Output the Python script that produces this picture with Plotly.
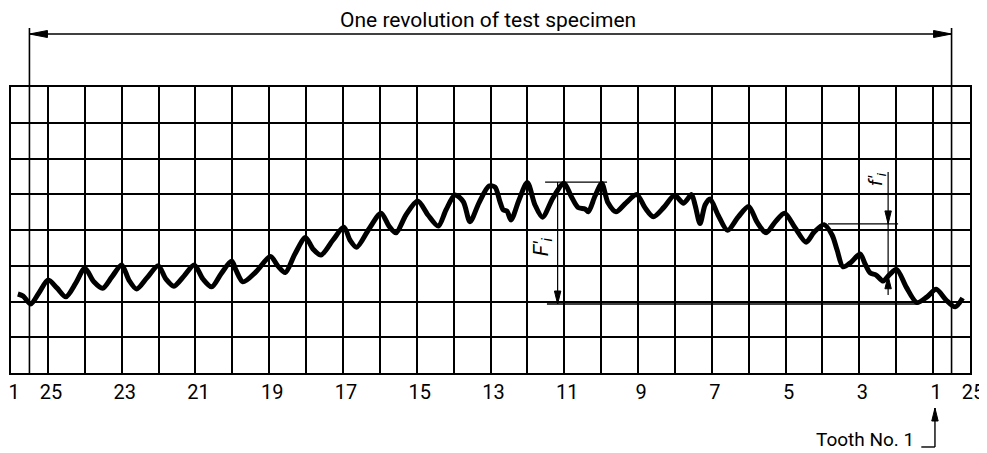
import plotly.graph_objects as go

# ---- data (x: tooth pitch position, y: deviation in grid units) ----
trace_x = [-0.814, -0.670, -0.469, -0.244, 0.008, 0.244, 0.488, 0.759, 1.003, 1.247,
           1.483, 1.736, 1.999, 2.197, 2.405, 2.685, 2.991, 3.200, 3.417, 3.688,
           3.967, 4.203, 4.439, 4.692, 4.982, 5.098, 5.288, 5.641, 6.034, 6.237,
           6.435, 6.698, 6.983, 7.186, 7.403, 7.729, 8.027, 8.190, 8.372, 8.705,
           9.031, 9.248, 9.437, 9.708, 10.026, 10.305, 10.584, 10.793, 11.037, 11.263,
           11.444, 11.688, 11.959, 12.122, 12.258, 12.347, 12.447, 12.556, 12.773, 12.998,
           13.207, 13.410, 13.695, 13.993, 14.183, 14.373, 14.563, 14.652, 14.834, 15.016,
           15.186, 15.403, 15.675, 15.965, 16.190, 16.415, 16.705, 16.990, 17.234, 17.451,
           17.546, 17.681, 17.817, 17.953, 18.169, 18.427, 18.712, 18.997, 19.227, 19.471,
           19.715, 19.973, 20.258, 20.556, 20.773, 21.044, 21.261, 21.397, 21.559, 21.776,
           22.020, 22.156, 22.292, 22.454, 22.644, 22.807, 23.010, 23.268, 23.561, 23.837,
           24.081, 24.353, 24.597, 24.800]
trace_y = [2.21, 2.15, 1.93, 2.24, 2.60, 2.38, 2.13, 2.52, 2.93, 2.55,
           2.37, 2.69, 3.02, 2.60, 2.35, 2.66, 3.00, 2.63, 2.43, 2.71,
           3.02, 2.63, 2.41, 2.77, 3.13, 2.88, 2.55, 2.83, 3.26, 2.99,
           2.81, 3.33, 3.79, 3.47, 3.30, 3.72, 4.08, 3.72, 3.52, 4.03,
           4.47, 4.11, 3.92, 4.42, 4.81, 4.42, 4.11, 4.56, 4.98, 4.79,
           4.23, 4.76, 5.23, 5.20, 4.79, 4.56, 4.53, 4.28, 4.84, 5.33,
           4.70, 4.36, 4.90, 5.31, 4.95, 4.63, 4.59, 4.51, 4.95, 5.30,
           4.76, 4.51, 4.76, 4.99, 4.62, 4.37, 4.64, 4.97, 4.75, 4.99,
           4.70, 4.18, 4.70, 4.87, 4.42, 3.99, 4.36, 4.66, 4.22, 3.92,
           4.22, 4.47, 4.06, 3.66, 3.94, 4.15, 3.86, 3.44, 2.97, 3.10,
           3.33, 3.05, 2.80, 2.74, 2.57, 2.74, 2.90, 2.41, 1.97, 2.13,
           2.34, 2.04, 1.85, 2.10]

tick_pos = [-1, 0, 2, 4, 6, 8, 10, 12, 14, 16, 18, 20, 22, 24, 25]
tick_text = ["1", "25", "23", "21", "19", "17", "15", "13", "11", "9", "7", "5", "3", "1", "25"]

# annotation reference levels (grid units)
Fi_x = 13.82
Fi_top = 5.34
Fi_bottom = 1.93
fi_x = 22.78
fi_top = 4.17
fi_low = 2.72

FONT = "Roboto"
ink = "black"
X_MIN, X_MAX = -1, 25


def xdom(k):
    return (k - X_MIN) / (X_MAX - X_MIN)


fig = go.Figure()
fig.add_trace(go.Scatter(x=trace_x, y=trace_y, mode="lines",
                         line=dict(color=ink, width=5, shape="spline", smoothing=0.8),
                         hoverinfo="skip", showlegend=False))

TOP_Y = 1.1853      # one-revolution arrow level (axis-domain units)
REV_TOP = 1.206     # top of the revolution marks
TOOTH_TIP = -0.1224
TOOTH_BASE = -0.2587

annotations = [
    dict(x=11.93, y=1.234, xref="x", yref="y domain", text="One revolution of test specimen",
         xanchor="center", yanchor="middle",
         showarrow=False, font=dict(family=FONT, size=21, color=ink)),
    dict(x=13.40, y=3.52, xref="x", yref="y", text="<i>F′<sub>i</sub></i>",
         xanchor="center", yanchor="middle",
         textangle=-90, showarrow=False, font=dict(family=FONT, size=21, color=ink)),
    dict(x=22.47, y=5.42, xref="x", yref="y", text="<i>f′<sub>i</sub></i>",
         xanchor="center", yanchor="middle",
         textangle=-90, showarrow=False, font=dict(family=FONT, size=19, color=ink)),
    dict(x=22.16, y=-0.233, xref="x", yref="y domain", text="Tooth No. 1",
         xanchor="center", yanchor="middle",
         showarrow=False, font=dict(family=FONT, size=19, color=ink)),
]


def line(xref, yref, x0, x1, y0, y1, w=1.3):
    return dict(type="line", xref=xref, yref=yref, x0=x0, x1=x1, y0=y0, y1=y1,
                line=dict(color=ink, width=w), layer="above")


def head(xref, yref, xa, ya, path):
    return dict(type="path", xref=xref, yref=yref, xsizemode="pixel", ysizemode="pixel",
                xanchor=xa, yanchor=ya, path=path, fillcolor=ink,
                line=dict(color=ink, width=1), layer="above")


LEFT_HEAD = "M0,0 L18,3.5 L18,-3.5 Z"
RIGHT_HEAD = "M0,0 L-18,3.5 L-18,-3.5 Z"
DOWN_HEAD = "M0,0 L-3.2,13 L3.2,13 Z"
UP_HEAD = "M0,0 L-3.2,-13 L3.2,-13 Z"

shapes = [
    # one revolution
    line("x domain", "y domain", xdom(-0.5), xdom(24.5), TOP_Y, TOP_Y, 1.3),
    head("x domain", "y domain", xdom(-0.5), TOP_Y, LEFT_HEAD),
    head("x domain", "y domain", xdom(24.5), TOP_Y, RIGHT_HEAD),
    line("x domain", "y domain", xdom(-0.5), xdom(-0.5), 0, REV_TOP, 1.6),
    line("x domain", "y domain", xdom(24.5), xdom(24.5), 0, REV_TOP, 1.6),
    # F'i
    line("x", "y", 13.48, 15.16, Fi_top, Fi_top),
    line("x", "y", 13.53, 23.6, Fi_bottom, Fi_bottom),
    line("x", "y", Fi_x, Fi_x, Fi_top, Fi_bottom, 1.2),
    head("x", "y", Fi_x, Fi_bottom, DOWN_HEAD),
    # f'i
    line("x", "y", 21.15, 23.05, fi_top, fi_top),
    line("x", "y", fi_x, fi_x, 5.62, 2.18, 1.2),
    head("x", "y", fi_x, fi_top, DOWN_HEAD),
    head("x", "y", fi_x, fi_low, UP_HEAD),
    # Tooth No. 1 pointer
    line("x domain", "y domain", xdom(24.05), xdom(24.05), TOOTH_TIP, TOOTH_BASE, 1.4),
    line("x domain", "y domain", xdom(23.68), xdom(24.05), TOOTH_BASE, TOOTH_BASE, 1.4),
    head("x domain", "y domain", xdom(24.05), TOOTH_TIP, UP_HEAD),
]

# the page body adds an 8 px offset, so the figure is 8 px smaller with shifted margins
fig.update_layout(
    width=979, height=445,
    margin=dict(l=3, r=17, t=79, b=80, autoexpand=False),
    paper_bgcolor="white", plot_bgcolor="white",
    showlegend=False,
    annotations=annotations,
    shapes=shapes,
    xaxis=dict(range=[X_MIN, X_MAX], tickmode="array", tickvals=tick_pos, ticktext=tick_text,
               ticklabelshift=3, ticklabeloverflow="allow", automargin=False,
               showgrid=True, gridcolor=ink, gridwidth=1.5,
               minor=dict(tickmode="linear", tick0=-1, dtick=1, showgrid=True,
                          gridcolor=ink, gridwidth=1.5, ticklen=0),
               showline=True, mirror=True, linecolor=ink, linewidth=1.5,
               ticks="", zeroline=False,
               tickfont=dict(family=FONT, size=20, color=ink)),
    yaxis=dict(range=[0, 8], tickmode="linear", tick0=0, dtick=1, automargin=False,
               showgrid=True, gridcolor=ink, gridwidth=1.5,
               showline=True, mirror=True, linecolor=ink, linewidth=1.5,
               showticklabels=False, ticks="", zeroline=False),
)

fig.write_html("out.html")
